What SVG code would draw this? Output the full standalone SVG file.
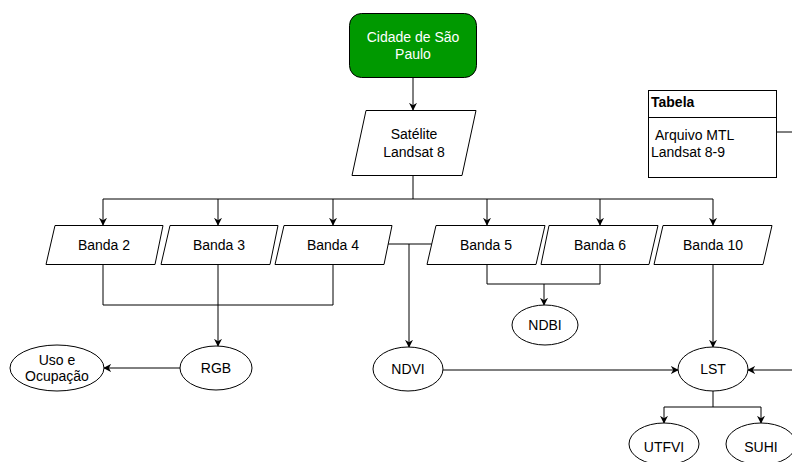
<svg xmlns="http://www.w3.org/2000/svg" width="792" height="462" viewBox="0 0 792 462">
<defs>
<marker id="arr" viewBox="0 0 10 10" refX="9" refY="5" markerWidth="8" markerHeight="8" markerUnits="userSpaceOnUse" orient="auto">
<path d="M0,0 L10,5 L0,10 L3,5 Z" fill="#000"/>
</marker>
<style>
.s{fill:#fff;stroke:#000;stroke-width:1}
.t{font-family:"Liberation Sans",Arial,sans-serif;font-size:14px;fill:#000;text-anchor:middle}
.l{font-family:"Liberation Sans",Arial,sans-serif;font-size:14px;fill:#000}
.c{fill:none;stroke:#000;stroke-width:1}
.a{marker-end:url(#arr)}
</style>
</defs>
<rect width="792" height="462" fill="#fff"/>
<g id="connectors">
<path class="c a" d="M413,77 V110"/>
<path class="c" d="M413,175 V199 M103,199 H713"/>
<path class="c a" d="M103,199 V225"/>
<path class="c a" d="M218,199 V225"/>
<path class="c a" d="M333,199 V225"/>
<path class="c a" d="M487,199 V225"/>
<path class="c a" d="M600,199 V225"/>
<path class="c a" d="M713,199 V225"/>
<path class="c" d="M103,264 V305 H333 V264"/>
<path class="c a" d="M218,264 V346"/>
<path class="c a" d="M180,368 H104"/>
<path class="c" d="M388,244 H432"/>
<path class="c a" d="M409,244 V347"/>
<path class="c" d="M487,264 V284 H600 V264"/>
<path class="c a" d="M544,284 V305"/>
<path class="c a" d="M713,264 V347"/>
<path class="c a" d="M443,370 H678"/>
<path class="c a" d="M792,370 H748"/>
<path class="c" d="M776,132 H792"/>
<path class="c" d="M713,391 V407 M664,407 H761"/>
<path class="c a" d="M664,407 V423"/>
<path class="c a" d="M761,407 V423"/>
</g>
<g id="cidade">
<rect x="349.5" y="13.5" width="127" height="64" rx="12" fill="#009900" stroke="#000"/>
<text class="t" x="413" y="42" style="fill:#fff">Cidade de São</text>
<text class="t" x="413" y="59" style="fill:#fff">Paulo</text>
</g>
<g id="satelite">
<path class="s" d="M366,110.5 H476 L462,175.5 H352 Z"/>
<text class="t" x="414" y="139">Satélite</text>
<text class="t" x="414" y="157">Landsat 8</text>
</g>
<g id="banda2">
<path class="s" d="M55,225.5 H163 L155,264.5 H46 Z"/>
<text class="t" x="104" y="250">Banda 2</text>
</g>
<g id="banda3">
<path class="s" d="M170,225.5 H278 L270,264.5 H161 Z"/>
<text class="t" x="219" y="250">Banda 3</text>
</g>
<g id="banda4">
<path class="s" d="M284,225.5 H392 L384,264.5 H275 Z"/>
<text class="t" x="333" y="250">Banda 4</text>
</g>
<g id="banda5">
<path class="s" d="M436,225.5 H545 L536,264.5 H427 Z"/>
<text class="t" x="486" y="250">Banda 5</text>
</g>
<g id="banda6">
<path class="s" d="M549,225.5 H658 L649,264.5 H541 Z"/>
<text class="t" x="600" y="250">Banda 6</text>
</g>
<g id="banda10">
<path class="s" d="M663,225.5 H772 L763,264.5 H654 Z"/>
<text class="t" x="713" y="250">Banda 10</text>
</g>
<g id="tabela">
<rect class="s" x="648.5" y="90.5" width="128" height="87"/>
<line class="c" x1="648.5" y1="117.5" x2="776.5" y2="117.5"/>
<text class="l" x="651" y="107" font-weight="bold">Tabela</text>
<text class="l" x="655" y="140">Arquivo MTL</text>
<text class="l" x="651" y="157">Landsat 8-9</text>
</g>
<g id="rgb">
<ellipse class="s" cx="216" cy="368" rx="36" ry="22"/>
<text class="t" x="216" y="373">RGB</text>
</g>
<g id="uso">
<ellipse class="s" cx="57" cy="368" rx="47" ry="23"/>
<text class="t" x="57" y="365">Uso e</text>
<text class="t" x="57" y="381">Ocupação</text>
</g>
<g id="ndvi">
<ellipse class="s" cx="408" cy="369" rx="35" ry="22"/>
<text class="t" x="408" y="374">NDVI</text>
</g>
<g id="ndbi">
<ellipse class="s" cx="545" cy="325" rx="33" ry="20"/>
<text class="t" x="545" y="330">NDBI</text>
</g>
<g id="lst">
<ellipse class="s" cx="713" cy="369" rx="35" ry="22"/>
<text class="t" x="713" y="374">LST</text>
</g>
<g id="utfvi">
<ellipse class="s" cx="664" cy="444" rx="35" ry="21"/>
<text class="t" x="664" y="452">UTFVI</text>
</g>
<g id="suhi">
<ellipse class="s" cx="761" cy="444" rx="35" ry="21"/>
<text class="t" x="761" y="452">SUHI</text>
</g>
</svg>
